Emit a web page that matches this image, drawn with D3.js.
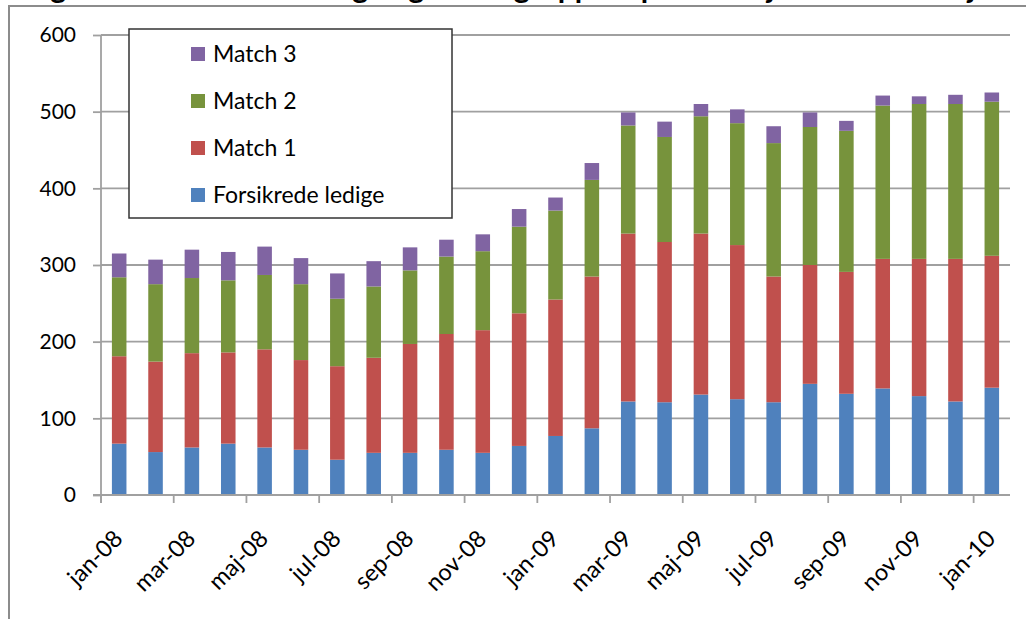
<!DOCTYPE html>
<html>
<head>
<meta charset="utf-8">
<script src="https://cdn.jsdelivr.net/npm/d3@7"></script>
<style>
  html, body { margin: 0; padding: 0; background: #fff; }
  svg { display: block; }
  text { font-family: Lato, "Open Sans", sans-serif; }
</style>
</head>
<body>
<svg id="chart" width="1026" height="619"></svg>
<script>
// ---- data ----
const months = ["jan-08","feb-08","mar-08","apr-08","maj-08","jun-08","jul-08","aug-08","sep-08","okt-08","nov-08","dec-08",
                "jan-09","feb-09","mar-09","apr-09","maj-09","jun-09","jul-09","aug-09","sep-09","okt-09","nov-09","dec-09","jan-10"];
const forsikrede = [67,56,62,67,62,59,46,55,55,59,55,64,77,87,122,121,131,125,121,145,132,139,129,122,140];
const match1     = [114,118,123,119,128,117,122,124,142,151,160,173,178,198,219,209,210,201,164,155,159,169,179,186,172];
const match2     = [103,101,98,94,97,99,88,93,96,101,103,113,116,126,141,137,153,159,174,180,184,200,202,202,201];
const match3     = [31,32,37,37,37,34,33,33,30,22,22,23,17,22,17,20,16,18,22,19,13,13,10,12,12];
const seriesNames = ["Forsikrede ledige","Match 1","Match 2","Match 3"];
const yTicks = [0,100,200,300,400,500,600];
const title = "Udvikling i antal forsikrede ledige og matchgrupper i perioden januar 2008 til januar 2010";

const colors = ["#4F81BD","#C0504D","#77933C","#8064A2"];

const svg = d3.select("#chart");

// outer frame
svg.append("path")
  .attr("d","M9,630 L9,6 L1040,6")
  .attr("fill","none").attr("stroke","#8c8c8c").attr("stroke-width",2);

// clipped title (only descenders visible, as in the reference)
svg.append("text")
  .attr("x", -60).attr("y", -2)
  .attr("font-size", 30).attr("font-weight", "bold")
  .attr("fill", "#000")
  .text(title);

const x = d3.scaleBand().domain(months).range([101,1010]).paddingInner(0.6).paddingOuter(0.3);
const y = d3.scaleLinear().domain([0,600]).range([495,35]);

const rows = months.map((m,i)=>({month:m, "Forsikrede ledige":forsikrede[i], "Match 1":match1[i], "Match 2":match2[i], "Match 3":match3[i]}));
const stack = d3.stack().keys(seriesNames)(rows);

// gridlines
svg.append("g").selectAll("line").data(yTicks.filter(d=>d>0)).join("line")
  .attr("x1",101).attr("x2",1010)
  .attr("y1",d=>y(d)).attr("y2",d=>y(d))
  .attr("stroke","#a0a0a0").attr("stroke-width",1.8);

// bars
svg.append("g").selectAll("g").data(stack).join("g")
  .attr("fill",(d,i)=>colors[i])
  .selectAll("rect").data(d=>d).join("rect")
  .attr("x",d=>x(d.data.month))
  .attr("width",x.bandwidth())
  .attr("y",d=>y(d[1]))
  .attr("height",d=>y(d[0])-y(d[1]));

// y axis
const yAxis = svg.append("g").attr("transform","translate(101,0)")
  .call(d3.axisLeft(y).tickValues(yTicks).tickSize(8).tickPadding(17).tickFormat(d3.format("d")));
yAxis.select(".domain").attr("stroke","#a0a0a0").attr("stroke-width",1.8).attr("d","M0,35V503");
yAxis.selectAll(".tick line").attr("stroke","#a0a0a0").attr("stroke-width",1.8);
yAxis.selectAll(".tick text").attr("font-size",21).attr("fill","#000").attr("font-family","Lato, sans-serif");

// x axis
const step = x.step();
const off = (step - x.bandwidth())/2;
svg.append("line").attr("x1",93).attr("x2",1010).attr("y1",495).attr("y2",495)
  .attr("stroke","#a0a0a0").attr("stroke-width",1.8);
const tickMonths = months.filter((m,i)=>i%2===0);
svg.append("g").selectAll("line").data(tickMonths).join("line")
  .attr("x1",d=>x(d)-off).attr("x2",d=>x(d)-off)
  .attr("y1",495).attr("y2",503)
  .attr("stroke","#a0a0a0").attr("stroke-width",1.8);
svg.append("g").selectAll("text").data(tickMonths).join("text")
  .attr("transform",d=>`translate(${x(d)+x.bandwidth()/2+5},540) rotate(-45)`)
  .attr("text-anchor","end")
  .attr("font-size",23.5).attr("fill","#000")
  .text(d=>d);

// legend
const lg = svg.append("g");
lg.append("rect").attr("x",129).attr("y",29).attr("width",323).attr("height",189)
  .attr("fill","#fff").attr("stroke","#333").attr("stroke-width",1.5);
const legendOrder = ["Match 3","Match 2","Match 1","Forsikrede ledige"];
const li = lg.selectAll("g.item").data(legendOrder).join("g").attr("class","item")
  .attr("transform",(d,i)=>`translate(0,${54 + i*47})`);
li.append("rect").attr("x",191).attr("y",-7).attr("width",14).attr("height",14)
  .attr("fill",d=>colors[seriesNames.indexOf(d)]);
li.append("text").attr("x",213).attr("y",7.5).attr("font-size",23).attr("fill","#000").text(d=>d);
</script>
</body>
</html>
